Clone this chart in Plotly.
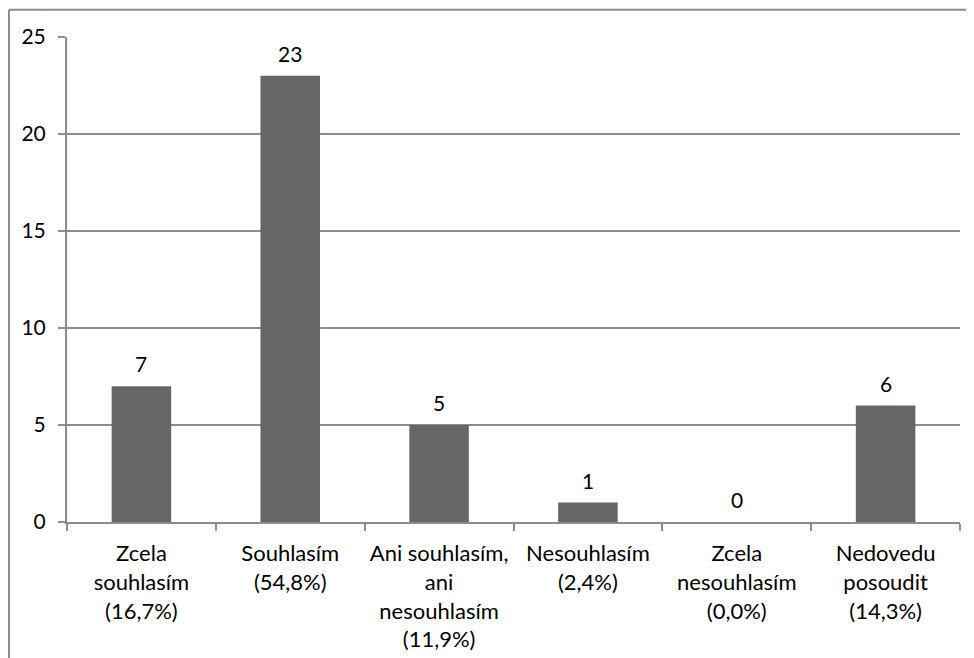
import plotly.graph_objects as go

# Answer categories (multi-line labels as in the original)
categories = [
    "Zcela<br>souhlasím<br>(16,7%)",
    "Souhlasím<br>(54,8%)",
    "Ani souhlasím,<br>ani<br>nesouhlasím<br>(11,9%)",
    "Nesouhlasím<br>(2,4%)",
    "Zcela<br>nesouhlasím<br>(0,0%)",
    "Nedovedu<br>posoudit<br>(14,3%)",
]
counts = [7, 23, 5, 1, 0, 6]
y_ticks = [0, 5, 10, 15, 20, 25]

FONT = "Lato, 'Open Sans', sans-serif"
GRID = "#8c8c8c"

fig = go.Figure()
fig.add_trace(
    go.Bar(
        x=categories,
        y=counts,
        width=0.4,
        marker=dict(color="#666666", line=dict(width=0)),
        showlegend=False,
    )
)

# Value labels above bars
for cat, val in zip(categories, counts):
    fig.add_annotation(
        x=cat, y=val, text=str(val), showarrow=False,
        yanchor="bottom", yshift=8,
        font=dict(family=FONT, size=21, color="#000000"),
    )

# Outer frame (only top and left edges are visible in the original)
fig.add_shape(type="line", xref="paper", yref="paper", x0=-0.065, x1=1.05, y0=1.056, y1=1.056,
              line=dict(color="#8a8a8a", width=2))
fig.add_shape(type="line", xref="paper", yref="paper", x0=-0.065, x1=-0.065, y0=1.056, y1=-0.4,
              line=dict(color="#8a8a8a", width=2))

# page body has an 8px margin, so the figure is a bit smaller than the window
fig.update_layout(
    width=958,
    height=650,
    margin=dict(l=59, r=6, t=29, b=136),
    paper_bgcolor="white",
    plot_bgcolor="white",
    font=dict(family=FONT, size=21, color="#000000"),
    bargap=0.6,
    xaxis=dict(
        showline=True, linecolor=GRID, linewidth=2,
        ticks="outside", tickson="boundaries", ticklen=7, tickcolor=GRID, tickwidth=2,
        showgrid=False, ticklabelstandoff=11, fixedrange=True,
        tickfont=dict(size=22),
    ),
    yaxis=dict(
        range=[0, 25], tickvals=y_ticks,
        showline=True, linecolor=GRID, linewidth=2,
        ticks="outside", ticklen=7, tickcolor=GRID, tickwidth=2,
        showgrid=True, gridcolor=GRID, gridwidth=2,
        zeroline=False, ticklabelstandoff=8, fixedrange=True,
    ),
)

fig.write_html("out.html")
